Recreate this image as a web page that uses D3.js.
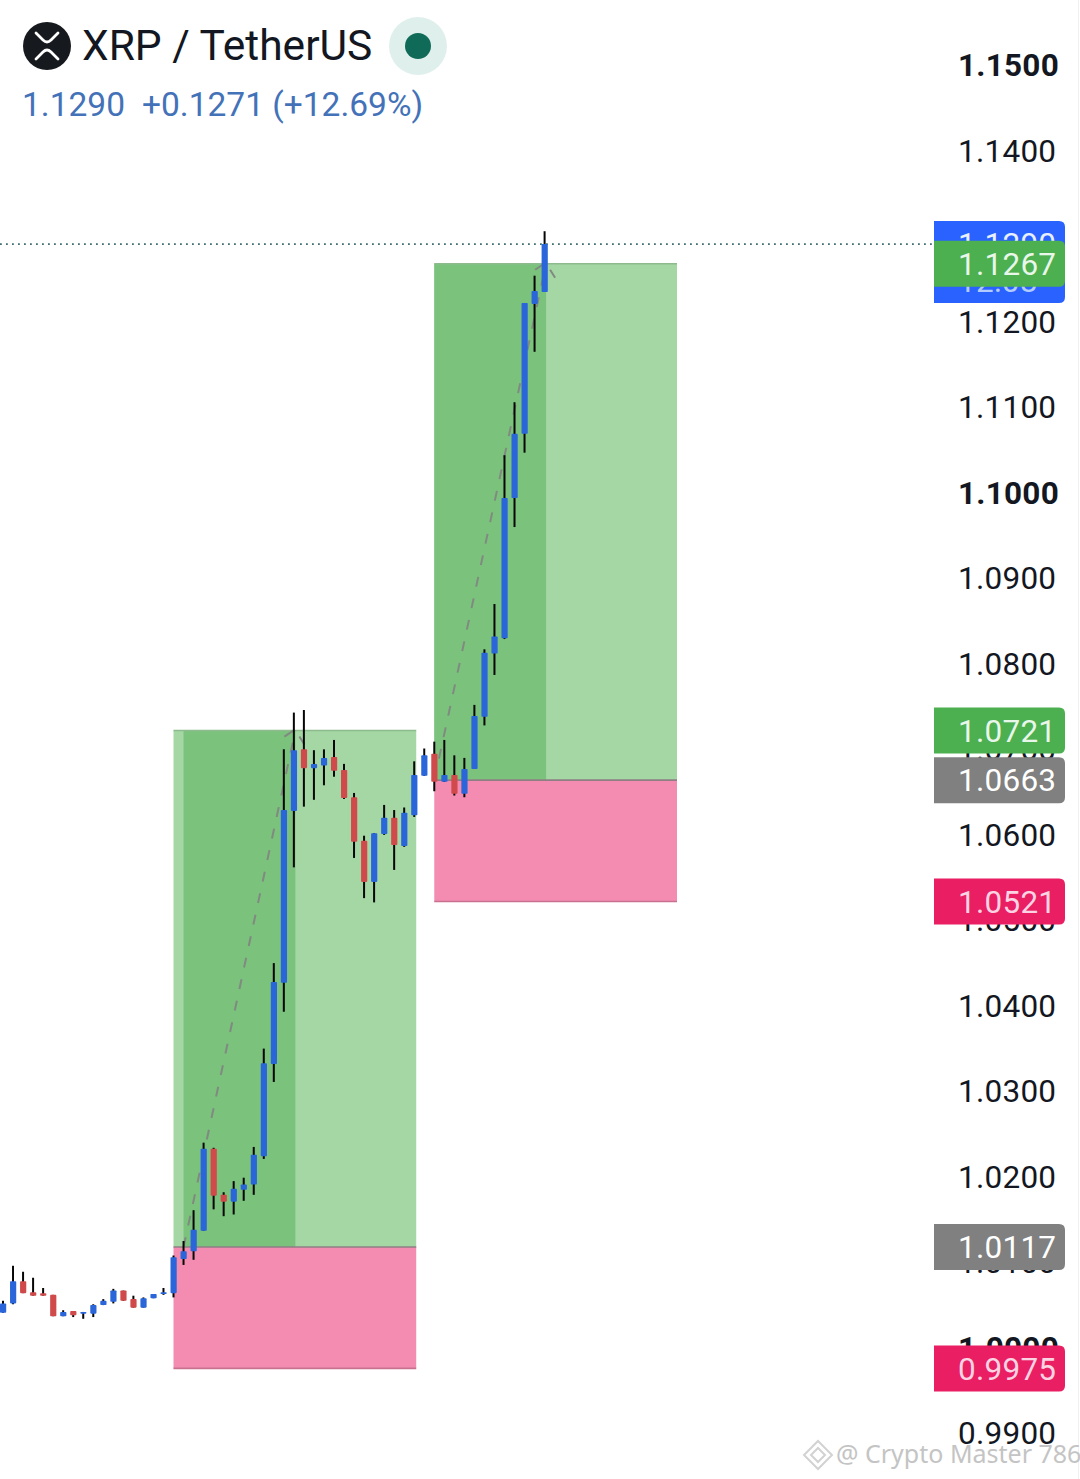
<!DOCTYPE html>
<html>
<head>
<meta charset="utf-8">
<style>
html,body{margin:0;padding:0;background:#fff;}
svg{display:block;}
text{font-family:Roboto,sans-serif;}
</style>
<script src="https://cdn.jsdelivr.net/npm/d3@7"></script>
</head>
<body>
<svg id="chart" width="1080" height="1479"></svg>
<script>
// one row per candle, oldest first
const opens = [1.0040,1.0051,1.0077,1.0064,1.0063,1.0061,1.0036,1.0042,1.0039,1.0039,1.0049,1.0053,1.0066,1.0056,1.0046,1.0057,1.0062,1.0063,1.0103,1.0112,1.0136,1.0232,1.0178,1.0170,1.0184,1.0190,1.0223,1.0331,1.0426,1.0627,1.0699,1.0677,1.0680,1.0690,1.0675,1.0643,1.0592,1.0544,1.0600,1.0619,1.0586,1.0622,1.0668,1.0694,1.0661,1.0669,1.0647,1.0676,1.0737,1.0811,1.0829,1.0993,1.1068,1.1220,1.1234];
const highs = [1.0054,1.0095,1.0088,1.0081,1.0069,1.0061,1.0043,1.0042,1.0041,1.0050,1.0056,1.0068,1.0066,1.0060,1.0058,1.0062,1.0069,1.0107,1.0124,1.0160,1.0239,1.0233,1.0181,1.0194,1.0198,1.0234,1.0349,1.0449,1.0699,1.0742,1.0745,1.0698,1.0699,1.0710,1.0682,1.0648,1.0598,1.0601,1.0634,1.0628,1.0631,1.0685,1.0700,1.0708,1.0710,1.0692,1.0689,1.0751,1.0816,1.0869,1.1043,1.1105,1.1221,1.1253,1.1305];
const lows = [1.0040,1.0050,1.0063,1.0060,1.0060,1.0036,1.0036,1.0035,1.0033,1.0035,1.0049,1.0051,1.0054,1.0046,1.0046,1.0057,1.0061,1.0058,1.0096,1.0102,1.0136,1.0161,1.0153,1.0155,1.0171,1.0178,1.0220,1.0310,1.0392,1.0561,1.0632,1.0640,1.0657,1.0667,1.0641,1.0572,1.0525,1.0520,1.0599,1.0558,1.0585,1.0620,1.0668,1.0650,1.0661,1.0645,1.0643,1.0676,1.0727,1.0786,1.0828,1.0959,1.1046,1.1164,1.1234];
const closes = [1.0051,1.0077,1.0063,1.0060,1.0060,1.0036,1.0041,1.0037,1.0041,1.0049,1.0054,1.0066,1.0054,1.0046,1.0057,1.0062,1.0064,1.0105,1.0112,1.0137,1.0232,1.0177,1.0170,1.0185,1.0190,1.0225,1.0332,1.0427,1.0628,1.0698,1.0677,1.0682,1.0689,1.0674,1.0642,1.0591,1.0544,1.0601,1.0619,1.0587,1.0625,1.0669,1.0692,1.0661,1.0669,1.0647,1.0676,1.0738,1.0812,1.0831,1.0993,1.1068,1.1221,1.1235,1.1290];

const tickValues = [1.15,1.14,1.13,1.12,1.11,1.10,1.09,1.08,1.07,1.06,1.05,1.04,1.03,1.02,1.01,1.00,0.99];
const boldTicks = [1.15,1.10,1.00];

// long positions: bar index where they start/end, where the drawn move starts/ends, and price levels
const positionNames = ["first","second"];
const positionStart = [17,43];
const positionEnd = [41.2,67.2];
const moveStart = [18,43];
const moveEnd = [29.15,54.15];
const entries = [1.0117,1.0663];
const targets = [1.0721,1.1267];
const stops = [0.9975,1.0521];

const priceLabelValues = [1.1267,1.0721,1.0663,1.0521,1.0117,0.9975];
const priceLabelKinds = ["profit","profit","entry","stop","entry","stop"];
const lastPrice = 1.1290;
const countdown = "12:08";

const title = "XRP / TetherUS";
const headerPrice = "1.1290";
const headerChange = "+0.1271 (+12.69%)";
const watermark = "@ Crypto Master 786";

const candles = opens.map((o,i)=>({i,o,h:highs[i],l:lows[i],c:closes[i]}));
const svg = d3.select("#chart");
const x = d3.scaleLinear().domain([0,54]).range([3,544.6]);
const y = d3.scaleLinear().domain([0.99,1.15]).range([1432.5,64.5]);

const kindFill = {profit:"#4caf50",entry:"#808080",stop:"#e91e63"};
const kindText = {profit:"#e9f6ea",entry:"#ffffff",stop:"#fcd3e2"};

// right scale line
svg.append("line").attr("x1",1078.5).attr("x2",1078.5).attr("y1",0).attr("y2",1479).attr("stroke","#f1f1f1").attr("stroke-width",1);

// axis labels
const axis = d3.axisRight(y).tickValues(tickValues).tickFormat(d3.format(".4f")).tickSize(0).tickPadding(0);
const axisG = svg.append("g").attr("transform","translate(958,0)").call(axis);
axisG.select(".domain").remove();
axisG.selectAll("text")
  .attr("x",0).attr("dy","0.36em")
  .attr("fill","#131722")
  .style("font-family","Roboto,sans-serif")
  .style("font-size","31.5px")
  .style("letter-spacing","0.25px")
  .style("font-weight",d=>boldTicks.includes(d)?700:400);

// position tools
const pos = svg.append("g").selectAll("g").data(positionNames).join("g");
pos.append("rect").attr("x",(d,i)=>x(positionStart[i])).attr("width",(d,i)=>x(positionEnd[i])-x(positionStart[i]))
  .attr("y",(d,i)=>y(targets[i])).attr("height",(d,i)=>y(entries[i])-y(targets[i])).attr("fill","#a5d7a5");
pos.append("rect").attr("x",(d,i)=>x(moveStart[i])).attr("width",(d,i)=>x(moveEnd[i])-x(moveStart[i]))
  .attr("y",(d,i)=>y(targets[i])).attr("height",(d,i)=>y(entries[i])-y(targets[i])).attr("fill","#7bc27c");
pos.append("rect").attr("x",(d,i)=>x(positionStart[i])).attr("width",(d,i)=>x(positionEnd[i])-x(positionStart[i]))
  .attr("y",(d,i)=>y(entries[i])).attr("height",(d,i)=>y(stops[i])-y(entries[i])).attr("fill","#f38cb0");
pos.append("line").attr("x1",(d,i)=>x(positionStart[i])).attr("x2",(d,i)=>x(positionEnd[i]))
  .attr("y1",(d,i)=>y(targets[i])).attr("y2",(d,i)=>y(targets[i])).attr("stroke","#8dbb8d").attr("stroke-width",1.5);
pos.append("line").attr("x1",(d,i)=>x(positionStart[i])).attr("x2",(d,i)=>x(positionEnd[i]))
  .attr("y1",(d,i)=>y(entries[i])).attr("y2",(d,i)=>y(entries[i])).attr("stroke","#8f7f85").attr("stroke-width",1.6);
pos.append("line").attr("x1",(d,i)=>x(positionStart[i])).attr("x2",(d,i)=>x(positionEnd[i]))
  .attr("y1",(d,i)=>y(stops[i])).attr("y2",(d,i)=>y(stops[i])).attr("stroke","#c9708f").attr("stroke-width",1.6);
pos.append("line").attr("x1",(d,i)=>x(moveStart[i])).attr("x2",(d,i)=>x(moveEnd[i]))
  .attr("y1",(d,i)=>y(entries[i])).attr("y2",(d,i)=>y(targets[i]))
  .attr("stroke","#808a80").attr("stroke-width",2).attr("stroke-dasharray","10 12");
pos.append("path")
  .attr("d",(d,i)=>{
    const tx=x(moveEnd[i]), ty=y(targets[i]);
    return `M${tx-11} ${ty+6}L${tx-2} ${ty}M${tx+4} ${ty+6}L${tx+9} ${ty+14}`;
  })
  .attr("fill","none").attr("stroke","#808a80").attr("stroke-width",2);

// last price dotted line
svg.append("line").attr("x1",0).attr("x2",932).attr("y1",y(lastPrice)).attr("y2",y(lastPrice))
  .attr("stroke","#3f6f70").attr("stroke-width",1.8).attr("stroke-dasharray","1.8 4.2");

// candles
const isUp = d=>d.c>=d.o;
const cg = svg.append("g").selectAll("g").data(candles).join("g");
cg.append("line").attr("x1",d=>x(d.i)).attr("x2",d=>x(d.i)).attr("y1",d=>y(d.h)).attr("y2",d=>y(d.l))
  .attr("stroke","#060606").attr("stroke-width",2);
cg.append("rect").attr("x",d=>x(d.i)-3).attr("width",6.2)
  .attr("y",d=>y(Math.max(d.o,d.c))).attr("height",d=>Math.max(1.2,Math.abs(y(d.o)-y(d.c))))
  .attr("rx",0.8).attr("fill",d=>isUp(d)?"#2a66da":"#d14a4b");

// price flags
function flag(g,top,h,fill){
  const l=934,r=1065,rad=6;
  g.append("path").attr("fill",fill)
    .attr("d",`M${l} ${top}H${r-rad}Q${r} ${top} ${r} ${top+rad}V${top+h-rad}Q${r} ${top+h} ${r-rad} ${top+h}H${l}Z`);
}
const flags = svg.append("g");
const lastTop = y(lastPrice)-23;
flag(flags,lastTop,82,"#2962ff");
flags.append("text").attr("x",958).attr("y",y(lastPrice)).attr("dy","0.36em").attr("fill","#e8efff")
  .style("font-size","31.5px").style("letter-spacing","0.25px").text(d3.format(".4f")(lastPrice));
flags.append("text").attr("x",958).attr("y",y(lastPrice)+37).attr("dy","0.36em").attr("fill","#b4cbff")
  .style("font-size","31.5px").style("letter-spacing","0.25px").text(countdown);
priceLabelValues.forEach((v,i)=>{
  const k=priceLabelKinds[i];
  flag(flags,y(v)-23,46,kindFill[k]);
  flags.append("text").attr("x",958).attr("y",y(v)).attr("dy","0.36em").attr("fill",kindText[k])
    .style("font-size","31.5px").style("letter-spacing","0.25px").text(d3.format(".4f")(v));
});

// header
const h = svg.append("g");
h.append("circle").attr("cx",47).attr("cy",46).attr("r",24).attr("fill","#16191d");
h.append("path").attr("d","M36 33L43 40Q47 44 51 40L58 33M36 59L43 52Q47 48 51 52L58 59")
  .attr("fill","none").attr("stroke","#fff").attr("stroke-width",2.8).attr("stroke-linecap","round");
h.append("text").attr("x",82).attr("y",60).attr("fill","#131722").style("font-size","42.5px").text(title);
h.append("circle").attr("cx",418).attr("cy",46).attr("r",29).attr("fill","#dff0ec");
h.append("circle").attr("cx",418).attr("cy",46).attr("r",13).attr("fill","#0f6b58");
h.append("text").attr("x",22).attr("y",116).attr("fill","#4472b8").style("font-size","33.5px").text(headerPrice);
h.append("text").attr("x",142).attr("y",116).attr("fill","#4472b8").style("font-size","33.5px").text(headerChange);

// watermark
const wm = svg.append("g");
wm.append("text").attr("x",836).attr("y",1463).attr("fill","#c4c4c4")
  .style("font-family","'Noto Sans',sans-serif").style("font-size","25px").text(watermark);
wm.append("path").attr("d","M818 1441L832 1455L818 1469L804 1455ZM818 1448L825 1455L818 1462L811 1455Z")
  .attr("fill","none").attr("stroke","#d2d2d2").attr("stroke-width",2);
</script>
</body>
</html>
